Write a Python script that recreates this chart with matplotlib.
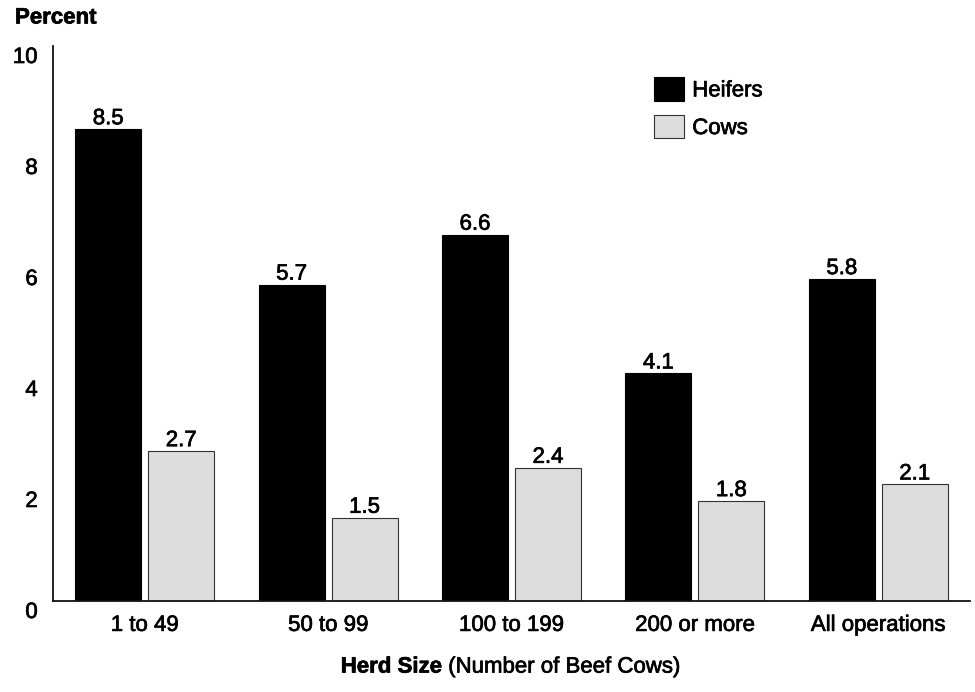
import matplotlib
matplotlib.use("Agg")
import matplotlib.pyplot as plt
import matplotlib.transforms as mtransforms
import matplotlib.patheffects as pe
import numpy as np

# ── Data ──────────────────────────────────────────
categories = ["1 to 49", "50 to 99", "100 to 199", "200 or more", "All operations"]
heifers    = [8.5, 5.7, 6.6, 4.1, 5.8]
cows       = [2.7, 1.5, 2.4, 1.8, 2.1]
y_ticks    = [0, 2, 4, 6, 8, 10]

# ── Style ─────────────────────────────────────────
plt.rcParams["font.family"] = ["Liberation Sans", "DejaVu Sans"]
FS = 16
HEIFER_COLOR = "#000000"
COW_COLOR    = "#DDDDDD"
EDGE         = "#333333"
# the original text renders a touch heavier than plain Liberation Sans
THICK = [pe.withStroke(linewidth=0.5, foreground="black")]

fig = plt.figure(figsize=(9.75, 6.92), dpi=100)
ax = fig.add_axes([53/975, 91/692, 917/975, 555/692])

x = np.arange(len(categories))
width = 0.36
off = 0.199

b1 = ax.bar(x - off, heifers, width, color=HEIFER_COLOR, edgecolor=HEIFER_COLOR,
            linewidth=0.8, label="Heifers")
b2 = ax.bar(x + off, cows, width, color=COW_COLOR, edgecolor=EDGE,
            linewidth=0.8, label="Cows")

lab1 = ax.bar_label(b1, labels=[f"{v:.1f}" for v in heifers], padding=0, fontsize=FS)
lab2 = ax.bar_label(b2, labels=[f"{v:.1f}" for v in cows], padding=0, fontsize=FS)

ax.set_xlim(-0.5, 4.5)
ax.set_ylim(0, 10)
ax.set_yticks(y_ticks)
ax.set_yticklabels([str(t) for t in y_ticks], fontsize=FS)
ax.set_xticks(x)
ax.set_xticklabels(categories, fontsize=FS)
ax.tick_params(axis="both", length=0)
ax.tick_params(axis="y", pad=11)
ax.tick_params(axis="x", pad=10)

# nudge y labels downward like the original
shift = mtransforms.ScaledTranslation(0, -0.09, fig.dpi_scale_trans)
for lbl in ax.get_yticklabels():
    lbl.set_transform(lbl.get_transform() + shift)

for s in ["top", "right"]:
    ax.spines[s].set_visible(False)
for s in ["left", "bottom"]:
    ax.spines[s].set_linewidth(1.3)
    ax.spines[s].set_color("#111111")

leg = ax.legend(loc="upper left", bbox_to_anchor=(654/975, (692-77)/692),
                bbox_transform=fig.transFigure, frameon=False, fontsize=FS,
                borderpad=0, borderaxespad=0, handlelength=1.36, handleheight=1.27,
                handletextpad=0.36, labelspacing=0.6)

t_pct = fig.text(15/975, (692-18)/692, "Percent", fontsize=FS, fontweight="bold",
                 ha="left", va="center")
t_herd = fig.text(442/975, 0.036, "Herd Size", fontsize=FS, fontweight="bold",
                  ha="right", va="center")
t_rest = fig.text(442/975, 0.036, " (Number of Beef Cows)", fontsize=FS,
                  ha="left", va="center")

for t in (list(lab1) + list(lab2) + ax.get_xticklabels() + ax.get_yticklabels()
          + leg.get_texts() + [t_rest, t_pct, t_herd]):
    t.set_path_effects(THICK)

fig.savefig("out.png", dpi=100)
